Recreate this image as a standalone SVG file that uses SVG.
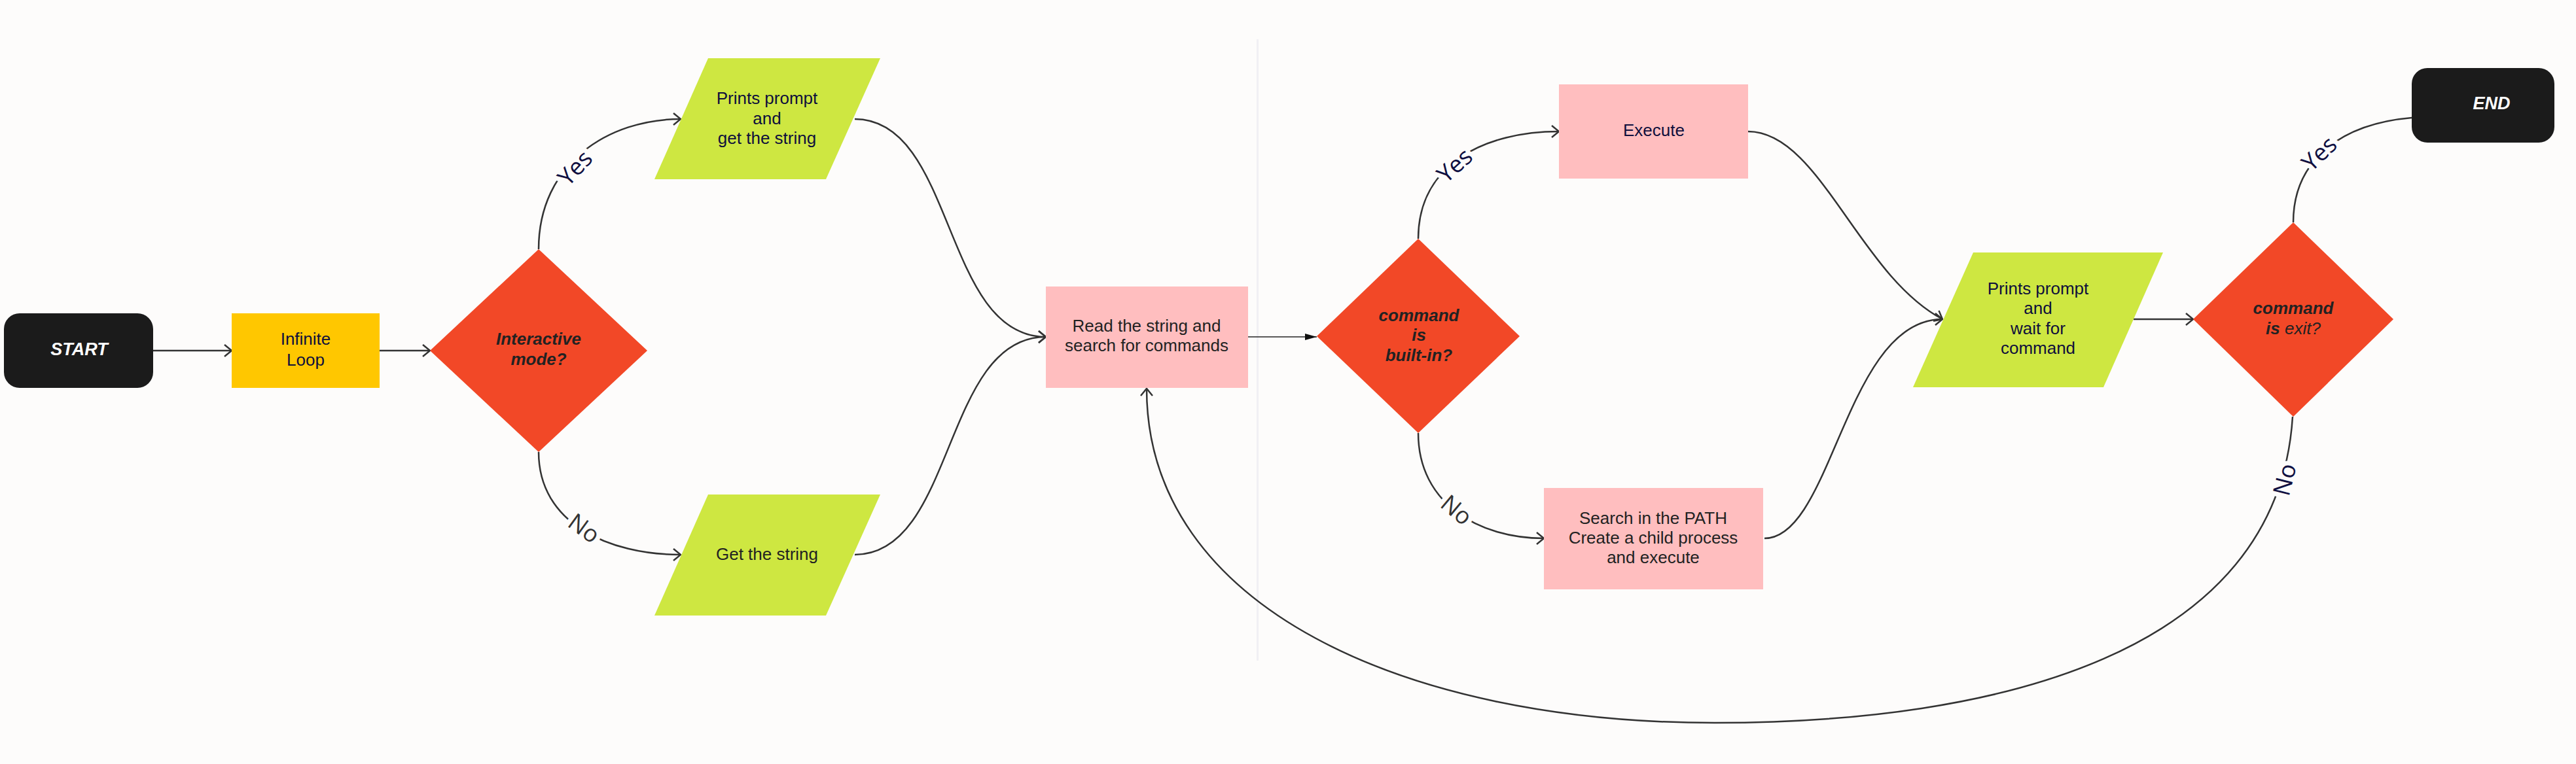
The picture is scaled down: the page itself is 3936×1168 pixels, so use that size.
<svg xmlns="http://www.w3.org/2000/svg" width="3936" height="1168" viewBox="0 0 3936 1168">
<defs>
<style>
.bg{fill:#FDFCFB}
.term{fill:#1B1B1B}
.loop{fill:#FFC700}
.dec{fill:#F24827}
.io{fill:#CEE741}
.proc{fill:#FFBEBF}
.t{font-family:"Liberation Sans",Arial,sans-serif;font-size:26px;text-anchor:middle}
.navy{fill:#0F0F3C}
.dark{fill:#222222}
.bi{font-weight:bold;font-style:italic}
.w{fill:#FFFFFF;font-size:27px}
.edge{fill:none;stroke:#333333;stroke-width:2.5}
.thin{fill:none;stroke:#222222;stroke-width:1.6}
.lbl{font-family:"Open Sans","Noto Sans",sans-serif;font-size:36px;text-anchor:middle;dominant-baseline:central;paint-order:stroke;stroke:#FDFCFB;stroke-width:14px;stroke-linejoin:round}
.ly{fill:#0F0F40}
.ln{fill:#333333}
</style>
<marker id="open" viewBox="0 0 13 20" refX="12" refY="10" markerWidth="13" markerHeight="20" markerUnits="userSpaceOnUse" orient="auto">
<path d="M1,1 L12,10 L1,19" fill="none" stroke="#333333" stroke-width="2.5"/>
</marker>
<marker id="solid" viewBox="0 0 18 10" refX="18" refY="5" markerWidth="18" markerHeight="10" markerUnits="userSpaceOnUse" orient="auto">
<path d="M0,0 L18,5 L0,10 Z" fill="#111111"/>
</marker>
</defs>
<rect class="bg" x="0" y="0" width="3936" height="1168"/>
<rect x="1920" y="60" width="3" height="950" fill="#F1F0F4"/>

<g id="connectors">
<path class="edge" d="M234,536 L354,536" marker-end="url(#open)"/>
<path class="edge" d="M580,536 L657,536" marker-end="url(#open)"/>
<path class="edge" d="M823,381 C823,250 930,182 1040,182" marker-end="url(#open)"/>
<path class="edge" d="M823,691 C823,800 930,848 1040,848" marker-end="url(#open)"/>
<path class="edge" d="M1306,182 C1460,182 1440,515 1598,515" marker-end="url(#open)"/>
<path class="edge" d="M1306,848 C1460,848 1440,515 1598,515" marker-end="url(#open)"/>
<path class="thin" d="M1907,515 L2012,515" marker-end="url(#solid)"/>
<path class="edge" d="M2167,365 C2167,250 2270,201 2382,201" marker-end="url(#open)"/>
<path class="edge" d="M2167,662 C2167,770 2260,823 2359,823" marker-end="url(#open)"/>
<path class="edge" d="M2671,201 C2780,201 2840,420 2968,488" marker-end="url(#open)"/>
<path class="edge" d="M2696,823 C2800,823 2820,488 2968,488" marker-end="url(#open)"/>
<path class="edge" d="M3260,488 L3351,488" marker-end="url(#open)"/>
<path class="edge" d="M3504,340 C3504,250 3570,190 3685,180"/>
<path class="edge" d="M3503,637 C3480,1000 3050,1105 2620,1105 C2150,1105 1752,930 1752,594" marker-end="url(#open)"/>
<text class="lbl ly" transform="translate(878,256) rotate(-47)">Yes</text>
<text class="lbl ln" transform="translate(893,807) rotate(36)">No</text>
<text class="lbl ly" transform="translate(2222,252) rotate(-42)">Yes</text>
<text class="lbl ln" transform="translate(2226,779) rotate(40)">No</text>
<text class="lbl ly" transform="translate(3543,234) rotate(-44)">Yes</text>
<text class="lbl ly" transform="translate(3490,733) rotate(-76)">No</text>
</g>

<g id="start">
<rect class="term" x="6" y="479" width="228" height="114" rx="24"/>
<text class="t w bi" x="121" y="543">START</text>
</g>
<g id="infinite-loop">
<rect class="loop" x="354" y="479" width="226" height="114"/>
<text class="t navy" x="467" y="527">Infinite</text>
<text class="t navy" x="467" y="559">Loop</text>
</g>
<g id="interactive-mode">
<polygon class="dec" points="823,381 989,536 823,691 657,536"/>
<text class="t dark bi" x="823" y="527">Interactive</text>
<text class="t dark bi" x="823" y="558">mode?</text>
</g>
<g id="prints-prompt-get">
<polygon class="io" points="1082,89 1345,89 1262,274 1000,274"/>
<text class="t navy" x="1172" y="159">Prints prompt</text>
<text class="t navy" x="1172" y="190">and</text>
<text class="t navy" x="1172" y="220">get the string</text>
</g>
<g id="get-string">
<polygon class="io" points="1082,756 1345,756 1262,941 1000,941"/>
<text class="t dark" x="1172" y="856">Get the string</text>
</g>
<g id="read-string">
<rect class="proc" x="1598" y="438" width="309" height="155"/>
<text class="t dark" x="1752" y="507">Read the string and</text>
<text class="t dark" x="1752" y="537">search for commands</text>
</g>
<g id="is-builtin">
<polygon class="dec" points="2167,365 2322,514 2167,662 2012,514"/>
<text class="t dark bi" x="2168" y="491">command</text>
<text class="t dark bi" x="2168" y="521">is</text>
<text class="t dark bi" x="2168" y="552">built-in?</text>
</g>
<g id="execute">
<rect class="proc" x="2382" y="129" width="289" height="144"/>
<text class="t navy" x="2527" y="208">Execute</text>
</g>
<g id="search-path">
<rect class="proc" x="2359" y="746" width="335" height="155"/>
<text class="t dark" x="2526" y="801">Search in the PATH</text>
<text class="t dark" x="2526" y="831">Create a child process</text>
<text class="t dark" x="2526" y="861">and execute</text>
</g>
<g id="prints-prompt-wait">
<polygon class="io" points="3015,386 3305,386 3214,592 2923,592"/>
<text class="t navy" x="3114" y="450">Prints prompt</text>
<text class="t navy" x="3114" y="480">and</text>
<text class="t navy" x="3114" y="511">wait for</text>
<text class="t navy" x="3114" y="541">command</text>
</g>
<g id="is-exit">
<polygon class="dec" points="3504,340 3657,488 3504,637 3351,488"/>
<text class="t dark bi" x="3504" y="480">command</text>
<text class="t dark" x="3504" y="511"><tspan class="bi">is</tspan><tspan font-style="italic"> exit?</tspan></text>
</g>
<g id="end">
<rect class="term" x="3685" y="104" width="218" height="114" rx="24"/>
<text class="t w bi" x="3807" y="167">END</text>
</g>
</svg>
